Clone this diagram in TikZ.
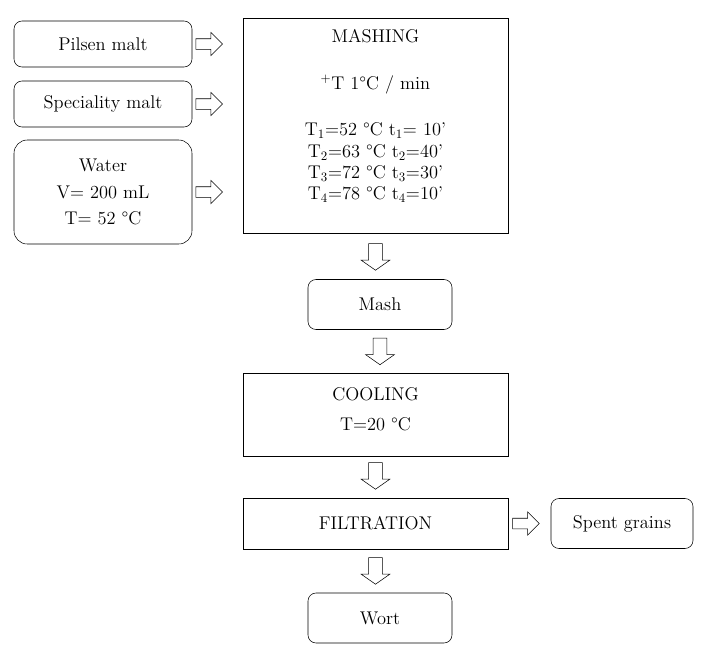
\documentclass[tikz,border=0pt]{standalone}
\usetikzlibrary{shapes.arrows,positioning}
\tikzset{
    x=0.75pt,y=-0.75pt,line width=0.8pt,node distance=6pt,
    every node/.style={font=\fontsize{13.8}{16}\selectfont},
    inbox/.style={draw, rounded corners=6pt, minimum width=133.5pt, minimum height=34.5pt, align=center},
    stepbox/.style={draw, minimum width=198.75pt, align=center},
    outbox/.style={draw, rounded corners=6pt, minimum width=108pt, minimum height=37.5pt},
    rarr/.style={draw, single arrow, inner xsep=0pt, inner ysep=3.75pt, single arrow head extend=4.75pt, minimum height=20pt},
    darr/.style={rarr, shape border rotate=270, inner xsep=5pt, inner ysep=0pt, single arrow head extend=5.5pt, single arrow tip angle=110}
}
\begin{document}
\begin{tikzpicture}
    \useasboundingbox (0,0) rectangle (707,654);
    % inputs
    \node[inbox] (pilsen) at (103,44) {Pilsen malt};
    \node[inbox] (spec) at (103,104) {Speciality malt};
    \node[inbox, rounded corners=10pt, minimum height=78pt] (water) at (103,192) {Water\\[4pt]V= 200 mL\\[4pt]T= 52 °C};

    % process
    \node[stepbox, minimum height=161.25pt] (mashing) at (375.5,125.5) {};
    \node[inner sep=0pt, align=center, below=8.5pt of mashing.north] (mashtxt)
        {MASHING\\[19pt]\textsuperscript{+}T 1°C / min\\[19pt]
         T\textsubscript{1}=52 °C t\textsubscript{1}= 10’\\
         T\textsubscript{2}=63 °C t\textsubscript{2}=40’\\
         T\textsubscript{3}=72 °C t\textsubscript{3}=30’\\
         T\textsubscript{4}=78 °C t\textsubscript{4}=10’};
    \node[outbox] (mash) at (380,304.5) {Mash};
    \node[stepbox, minimum height=62.25pt] (cooling) at (375.5,414.5) {};
    \node[inner sep=0pt, align=center, below=11pt of cooling.north] (cooltxt) {COOLING\\[6.5pt]T=20 °C};
    \node[stepbox, minimum height=38.25pt] (filtration) at (375.5,523.5) {FILTRATION};
    \node[outbox, minimum width=106.5pt] (spent) at (622,523.5) {Spent grains};
    \node[outbox] (wort) at (380,618) {Wort};

    % block arrows
    \node[rarr, right=2.5pt of pilsen] (a1) {};
    \node[rarr, right=2.5pt of spec] (a2) {};
    \node[rarr, right=2.5pt of water] (a3) {};
    \node[darr, below=7.5pt of mashing] (a4) {};
    \node[darr, below=6pt of mash] (a5) {};
    \node[darr, below=4.5pt of cooling] (a6) {};
    \node[rarr, right=3pt of filtration] (a7) {};
    \node[darr, below=6pt of filtration] (a8) {};
\end{tikzpicture}
\end{document}
